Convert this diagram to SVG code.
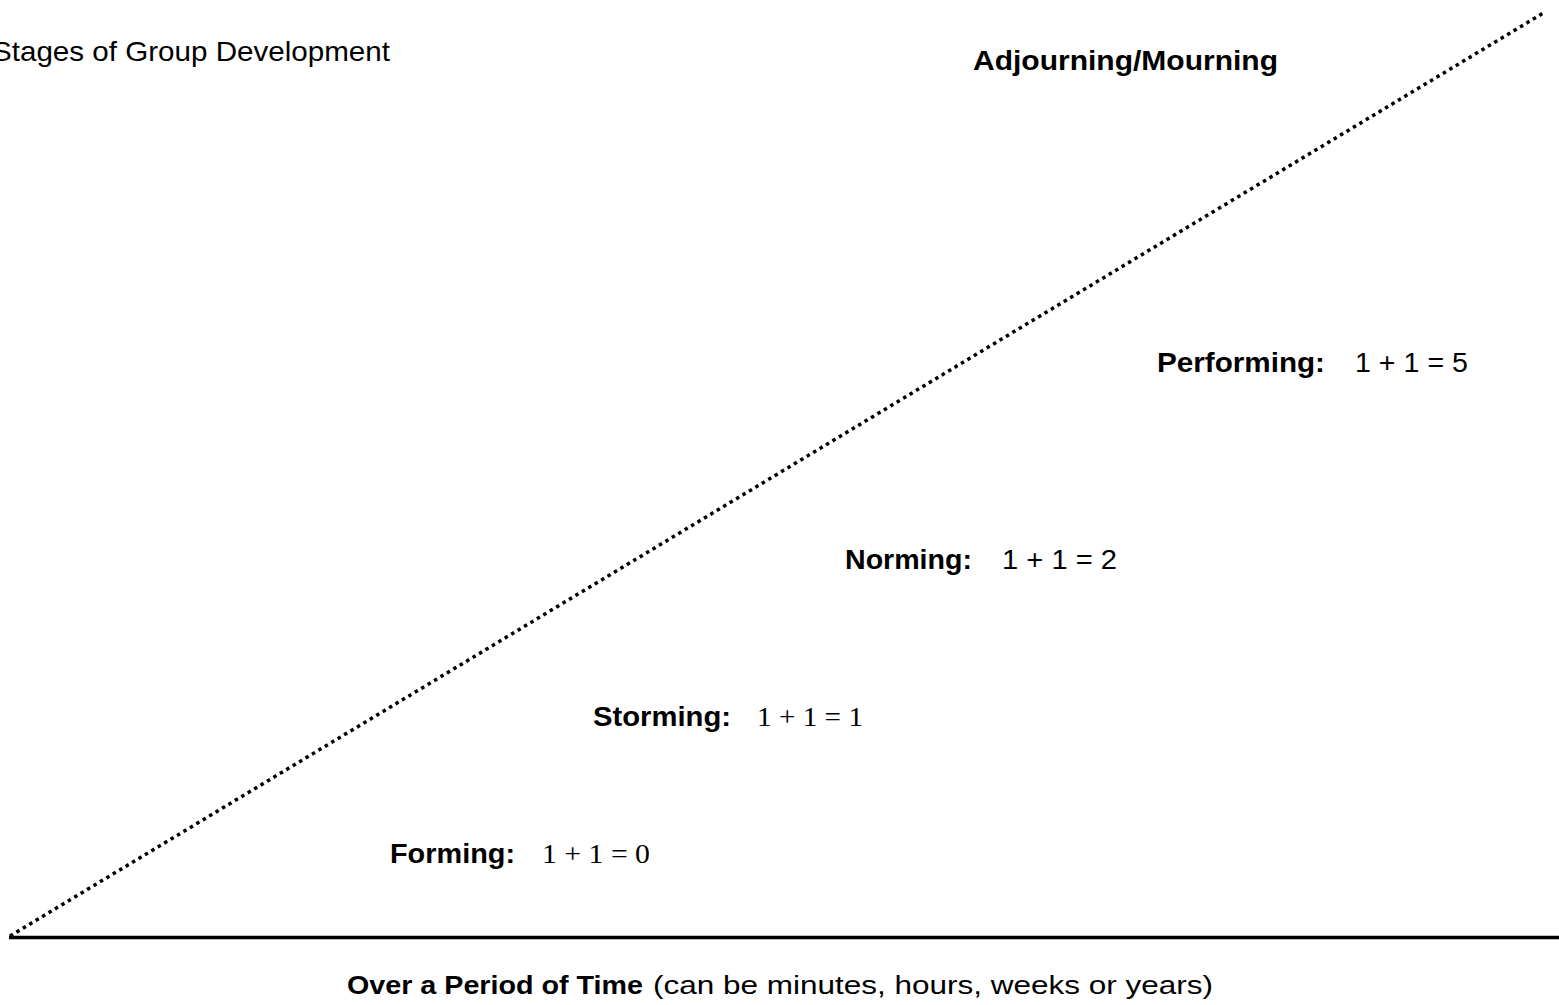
<svg xmlns="http://www.w3.org/2000/svg" width="1559" height="1005" viewBox="0 0 1559 1005">
  <style>
    text { font-family: "Liberation Sans", Arial, sans-serif; fill: #000; }
    .b { font-weight: bold; }
    .lbl { font-size: 28px; }
    .eq { font-size: 28px; }
    .math { font-family: "Liberation Serif", "Times New Roman", serif; font-size: 28px; }
    .axis { font-size: 25px; }
  </style>
  <rect width="1559" height="1005" fill="#fff"/>

  <!-- title -->
  <text x="-8" y="61" font-size="28" textLength="398" lengthAdjust="spacingAndGlyphs">Stages of Group Development</text>

  <!-- connectors: rising dotted trend and time axis -->
  <g id="connectors">
    <line x1="10" y1="936" x2="1545" y2="12" stroke="#000" stroke-width="3.5" stroke-dasharray="3.5 4"/>
    <line x1="9" y1="937.5" x2="1559" y2="937.5" stroke="#000" stroke-width="3.5"/>
  </g>

  <g id="adjourning">
    <text class="b lbl" x="973" y="70" textLength="305" lengthAdjust="spacingAndGlyphs">Adjourning/Mourning</text>
  </g>

  <g id="performing">
    <text class="b lbl" x="1157" y="372" textLength="168" lengthAdjust="spacingAndGlyphs">Performing:</text>
    <text class="eq" x="1355" y="372" textLength="113" lengthAdjust="spacingAndGlyphs">1 + 1 = 5</text>
  </g>

  <g id="norming">
    <text class="b lbl" x="845" y="569" textLength="127" lengthAdjust="spacingAndGlyphs">Norming:</text>
    <text class="eq" x="1002" y="569" textLength="115" lengthAdjust="spacingAndGlyphs">1 + 1 = 2</text>
  </g>

  <g id="storming">
    <text class="b lbl" x="593" y="726" textLength="138" lengthAdjust="spacingAndGlyphs">Storming:</text>
    <text class="math" x="757" y="726" textLength="106" lengthAdjust="spacingAndGlyphs">1 + 1 = 1</text>
  </g>

  <g id="forming">
    <text class="b lbl" x="390" y="863" textLength="125" lengthAdjust="spacingAndGlyphs">Forming:</text>
    <text class="math" x="542" y="863" textLength="108" lengthAdjust="spacingAndGlyphs">1 + 1 = 0</text>
  </g>

  <g id="time-axis-label">
    <text class="b axis" x="347" y="994" textLength="296" lengthAdjust="spacingAndGlyphs">Over a Period of Time</text>
    <text class="axis" x="653" y="994" textLength="560" lengthAdjust="spacingAndGlyphs">(can be minutes, hours, weeks or years)</text>
  </g>
</svg>
